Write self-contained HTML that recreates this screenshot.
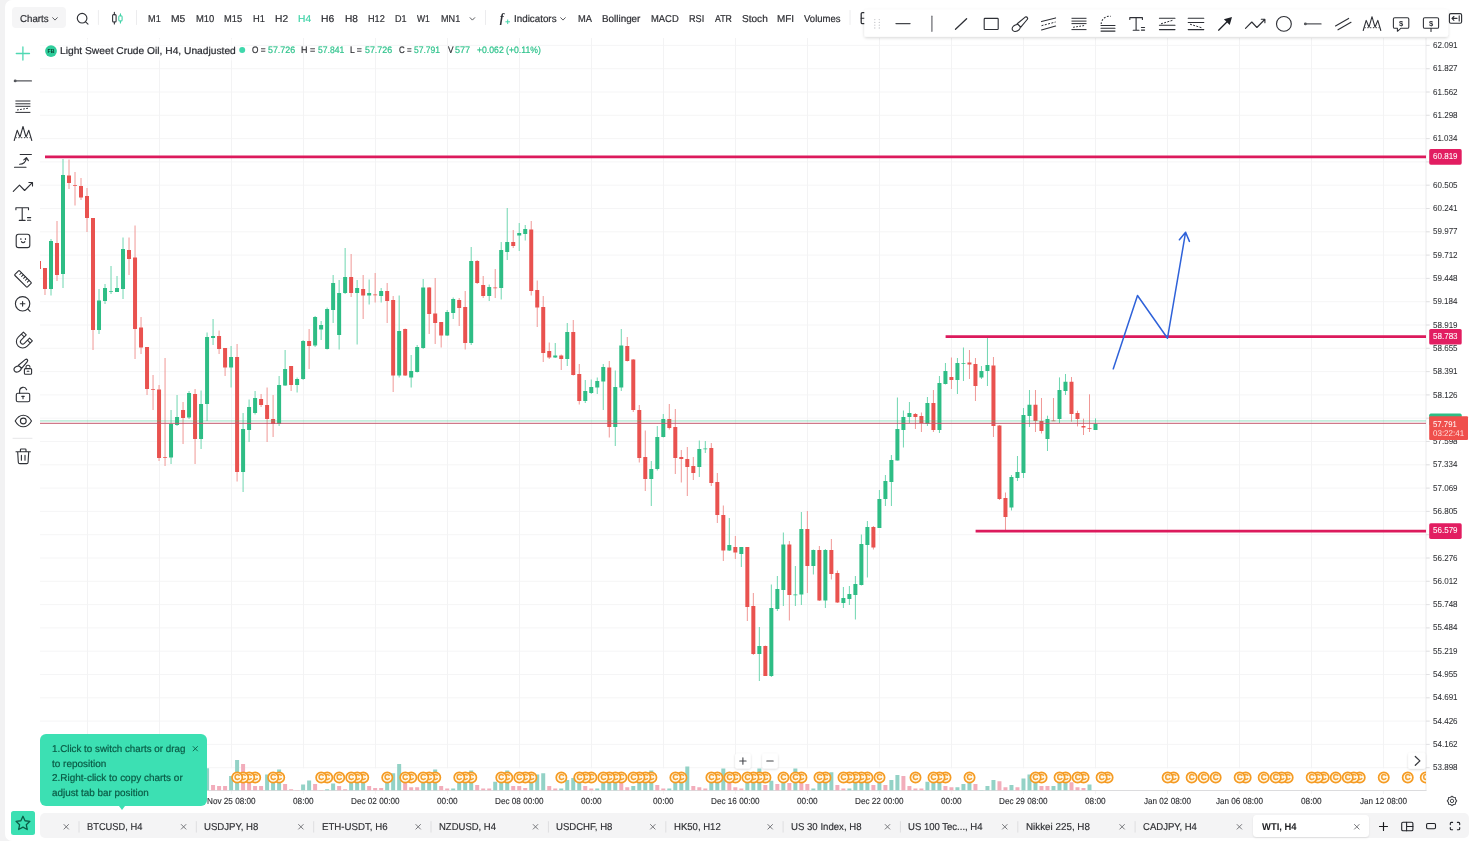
<!DOCTYPE html>
<html lang="en"><head><meta charset="utf-8"><title>Light Sweet Crude Oil, H4</title>
<style>
html,body{margin:0;padding:0}
body{width:1471px;height:841px;overflow:hidden;background:#fff;font-family:"Liberation Sans",sans-serif;position:relative;color:#333}
.strip{position:absolute;left:0;top:0;width:12px;height:841px;background:#f2f2f3}
.panel{position:absolute;left:4.6px;top:0;width:1467px;height:841px;background:#fff;border-radius:7px 0 0 7px}
svg.chart{position:absolute;left:0;top:0;width:1471px;height:841px;overflow:hidden}
.t{position:absolute;white-space:nowrap;line-height:13px;height:13px;margin:0;padding:0;text-rendering:geometricPrecision;transform-origin:0 50%}
.box{position:absolute}

</style></head><body>
<div class="strip"></div><div class="panel"></div>
<div class="box" style="left:40.4px;top:813.1px;width:1429px;height:25.4px;background:#f4f4f5;border-radius:5px"></div>
<div class="box" style="left:1253.2px;top:815.1px;width:115.9px;height:22px;background:#fff;border-radius:3.5px;box-shadow:0 1px 2px rgba(0,0,0,.10)"></div>
<div class="box" style="left:12.3px;top:7.2px;width:53.8px;height:20.5px;background:#f5f5f6;border-radius:4px"></div>
<span class="t" id="t35" style="left:1432.92px;top:39px;font-size:8.7px;color:#2d2e32;-webkit-text-stroke:0.05px #2d2e32;transform:scaleX(0.9243);">62.091</span>
<span class="t" id="t36" style="left:1432.92px;top:62px;font-size:8.7px;color:#2d2e32;-webkit-text-stroke:0.05px #2d2e32;transform:scaleX(0.9243);">61.827</span>
<span class="t" id="t37" style="left:1432.92px;top:86px;font-size:8.7px;color:#2d2e32;-webkit-text-stroke:0.05px #2d2e32;transform:scaleX(0.9243);">61.562</span>
<span class="t" id="t38" style="left:1432.92px;top:109px;font-size:8.7px;color:#2d2e32;-webkit-text-stroke:0.05px #2d2e32;transform:scaleX(0.9243);">61.298</span>
<span class="t" id="t39" style="left:1432.96px;top:132px;font-size:8.7px;color:#2d2e32;-webkit-text-stroke:0.05px #2d2e32;transform:scaleX(0.9154);">61.034</span>
<span class="t" id="t40" style="left:1432.92px;top:179px;font-size:8.7px;color:#2d2e32;-webkit-text-stroke:0.05px #2d2e32;transform:scaleX(0.9243);">60.505</span>
<span class="t" id="t41" style="left:1432.92px;top:202px;font-size:8.7px;color:#2d2e32;-webkit-text-stroke:0.05px #2d2e32;transform:scaleX(0.9243);">60.241</span>
<span class="t" id="t42" style="left:1432.90px;top:225px;font-size:8.7px;color:#2d2e32;-webkit-text-stroke:0.05px #2d2e32;transform:scaleX(0.9243);">59.977</span>
<span class="t" id="t43" style="left:1432.90px;top:249px;font-size:8.7px;color:#2d2e32;-webkit-text-stroke:0.05px #2d2e32;transform:scaleX(0.9243);">59.712</span>
<span class="t" id="t44" style="left:1432.90px;top:272px;font-size:8.7px;color:#2d2e32;-webkit-text-stroke:0.05px #2d2e32;transform:scaleX(0.9243);">59.448</span>
<span class="t" id="t45" style="left:1432.96px;top:295px;font-size:8.7px;color:#2d2e32;-webkit-text-stroke:0.05px #2d2e32;transform:scaleX(0.9154);">59.184</span>
<span class="t" id="t46" style="left:1432.90px;top:319px;font-size:8.7px;color:#2d2e32;-webkit-text-stroke:0.05px #2d2e32;transform:scaleX(0.9243);">58.919</span>
<span class="t" id="t47" style="left:1432.90px;top:342px;font-size:8.7px;color:#2d2e32;-webkit-text-stroke:0.05px #2d2e32;transform:scaleX(0.9243);">58.655</span>
<span class="t" id="t48" style="left:1432.90px;top:365px;font-size:8.7px;color:#2d2e32;-webkit-text-stroke:0.05px #2d2e32;transform:scaleX(0.9243);">58.391</span>
<span class="t" id="t49" style="left:1432.90px;top:389px;font-size:8.7px;color:#2d2e32;-webkit-text-stroke:0.05px #2d2e32;transform:scaleX(0.9243);">58.126</span>
<span class="t" id="t50" style="left:1432.90px;top:435px;font-size:8.7px;color:#2d2e32;-webkit-text-stroke:0.05px #2d2e32;transform:scaleX(0.9243);">57.598</span>
<span class="t" id="t51" style="left:1432.96px;top:458px;font-size:8.7px;color:#2d2e32;-webkit-text-stroke:0.05px #2d2e32;transform:scaleX(0.9154);">57.334</span>
<span class="t" id="t52" style="left:1432.90px;top:482px;font-size:8.7px;color:#2d2e32;-webkit-text-stroke:0.05px #2d2e32;transform:scaleX(0.9243);">57.069</span>
<span class="t" id="t53" style="left:1432.90px;top:505px;font-size:8.7px;color:#2d2e32;-webkit-text-stroke:0.05px #2d2e32;transform:scaleX(0.9243);">56.805</span>
<span class="t" id="t54" style="left:1432.90px;top:552px;font-size:8.7px;color:#2d2e32;-webkit-text-stroke:0.05px #2d2e32;transform:scaleX(0.9243);">56.276</span>
<span class="t" id="t55" style="left:1432.90px;top:575px;font-size:8.7px;color:#2d2e32;-webkit-text-stroke:0.05px #2d2e32;transform:scaleX(0.9243);">56.012</span>
<span class="t" id="t56" style="left:1432.90px;top:598px;font-size:8.7px;color:#2d2e32;-webkit-text-stroke:0.05px #2d2e32;transform:scaleX(0.9243);">55.748</span>
<span class="t" id="t57" style="left:1432.96px;top:621px;font-size:8.7px;color:#2d2e32;-webkit-text-stroke:0.05px #2d2e32;transform:scaleX(0.9154);">55.484</span>
<span class="t" id="t58" style="left:1432.90px;top:645px;font-size:8.7px;color:#2d2e32;-webkit-text-stroke:0.05px #2d2e32;transform:scaleX(0.9243);">55.219</span>
<span class="t" id="t59" style="left:1432.90px;top:668px;font-size:8.7px;color:#2d2e32;-webkit-text-stroke:0.05px #2d2e32;transform:scaleX(0.9243);">54.955</span>
<span class="t" id="t60" style="left:1432.90px;top:691px;font-size:8.7px;color:#2d2e32;-webkit-text-stroke:0.05px #2d2e32;transform:scaleX(0.9243);">54.691</span>
<span class="t" id="t61" style="left:1432.90px;top:715px;font-size:8.7px;color:#2d2e32;-webkit-text-stroke:0.05px #2d2e32;transform:scaleX(0.9243);">54.426</span>
<span class="t" id="t62" style="left:1432.90px;top:738px;font-size:8.7px;color:#2d2e32;-webkit-text-stroke:0.05px #2d2e32;transform:scaleX(0.9243);">54.162</span>
<span class="t" id="t63" style="left:1432.90px;top:761px;font-size:8.7px;color:#2d2e32;-webkit-text-stroke:0.05px #2d2e32;transform:scaleX(0.9243);">53.898</span>
<svg class="chart" width="1471" height="841" viewBox="0 0 1471 841">
<defs><clipPath id="plot"><rect x="40" y="38" width="1386" height="752.5"/></clipPath></defs>
<path d="M40 45.4 H1430 M40 68.7 H1430 M40 92 H1430 M40 115.3 H1430 M40 138.6 H1430 M40 161.9 H1430 M40 185.2 H1430 M40 208.5 H1430 M40 231.8 H1430 M40 255.1 H1430 M40 278.4 H1430 M40 301.7 H1430 M40 325 H1430 M40 348.3 H1430 M40 371.6 H1430 M40 394.9 H1430 M40 418.2 H1430 M40 441.5 H1430 M40 464.8 H1430 M40 488.1 H1430 M40 511.4 H1430 M40 534.7 H1430 M40 558 H1430 M40 581.3 H1430 M40 604.6 H1430 M40 627.9 H1430 M40 651.2 H1430 M40 674.5 H1430 M40 697.8 H1430 M40 721.1 H1430 M40 744.4 H1430 M40 767.7 H1430" stroke="#f5f5f6" stroke-width="1" fill="none"/>
<path d="M87.5 38 V768.3 M87.5 790.5 V794 M159.5 38 V768.3 M159.5 790.5 V794 M231.5 38 V768.3 M231.5 790.5 V794 M303.5 38 V768.3 M303.5 790.5 V794 M375.5 38 V768.3 M375.5 790.5 V794 M447.5 38 V768.3 M447.5 790.5 V794 M519.5 38 V768.3 M519.5 790.5 V794 M591.5 38 V768.3 M591.5 790.5 V794 M663.5 38 V768.3 M663.5 790.5 V794 M735.5 38 V768.3 M735.5 790.5 V794 M807.5 38 V768.3 M807.5 790.5 V794 M879.5 38 V768.3 M879.5 790.5 V794 M951.5 38 V768.3 M951.5 790.5 V794 M1023.5 38 V768.3 M1023.5 790.5 V794 M1095.5 38 V768.3 M1095.5 790.5 V794 M1167.5 38 V768.3 M1167.5 790.5 V794 M1239.5 38 V768.3 M1239.5 790.5 V794 M1311.5 38 V768.3 M1311.5 790.5 V794 M1383.5 38 V768.3 M1383.5 790.5 V794" stroke="#f3f3f4" stroke-width="1" fill="none"/>
<path d="M1426 38 V790.5" stroke="#ebebed" stroke-width="1" fill="none"/>
<path d="M40 790.5 H1426.5" stroke="#dcdcde" stroke-width="1" fill="none"/>
<g clip-path="url(#plot)">
<path d="M205.07 790.5v-22.3h4v22.3zM229.08 790.5v-14.4h4v14.4zM235.09 790.5v-30.4h4v30.4zM265.1 790.5v-16h4v16zM271.1 790.5v-17h4v17zM277.11 790.5v-21h4v21zM301.12 790.5v-6h4v6zM307.12 790.5v-10h4v10zM325.13 790.5v-1.2h4v1.2zM331.13 790.5v-7h4v7zM349.14 790.5v-8h4v8zM355.14 790.5v-9h4v9zM361.15 790.5v-10h4v10zM385.16 790.5v-8h4v8zM391.16 790.5v-17.3h4v17.3zM397.16 790.5v-26.4h4v26.4zM421.18 790.5v-8h4v8zM427.18 790.5v-9h4v9zM433.18 790.5v-21h4v21zM451.19 790.5v-2.1h4v2.1zM457.19 790.5v-8h4v8zM463.2 790.5v-9h4v9zM469.2 790.5v-20h4v20zM493.21 790.5v-8.7h4v8.7zM499.21 790.5v-10h4v10zM505.22 790.5v-20h4v20zM529.23 790.5v-10h4v10zM535.23 790.5v-16h4v16zM541.23 790.5v-17.3h4v17.3zM559.24 790.5v-2.1h4v2.1zM565.25 790.5v-10.4h4v10.4zM571.25 790.5v-12.6h4v12.6zM577.25 790.5v-13h4v13zM595.26 790.5v-2.1h4v2.1zM601.26 790.5v-8h4v8zM607.27 790.5v-9h4v9zM613.27 790.5v-10h4v10zM631.28 790.5v-4.4h4v4.4zM637.28 790.5v-8h4v8zM643.28 790.5v-9h4v9zM649.29 790.5v-20h4v20zM667.29 790.5v-2.1h4v2.1zM673.3 790.5v-8h4v8zM679.3 790.5v-9h4v9zM685.3 790.5v-24h4v24zM709.31 790.5v-9h4v9zM715.32 790.5v-10h4v10zM721.32 790.5v-22h4v22zM745.33 790.5v-8h4v8zM751.34 790.5v-9h4v9zM757.34 790.5v-22h4v22zM769.34 790.5v-9.7h4v9.7zM781.35 790.5v-8h4v8zM793.36 790.5v-22h4v22zM811.36 790.5v-2.1h4v2.1zM817.37 790.5v-8h4v8zM823.37 790.5v-9h4v9zM829.37 790.5v-18.3h4v18.3zM847.38 790.5v-2.1h4v2.1zM853.38 790.5v-8h4v8zM859.39 790.5v-9h4v9zM865.39 790.5v-10h4v10zM877.4 790.5v-8h4v8zM889.4 790.5v-10.4h4v10.4zM895.4 790.5v-15.4h4v15.4zM925.42 790.5v-8.7h4v8.7zM931.42 790.5v-9h4v9zM937.43 790.5v-10h4v10zM955.43 790.5v-3.3h4v3.3zM961.44 790.5v-6.4h4v6.4zM967.44 790.5v-8h4v8zM979.45 790.5v-0.5h4v0.5zM985.45 790.5v-4.4h4v4.4zM991.45 790.5v-10.4h4v10.4zM1009.46 790.5v-5.4h4v5.4zM1021.47 790.5v-12h4v12zM1027.47 790.5v-16h4v16zM1033.47 790.5v-8h4v8zM1051.48 790.5v-4.4h4v4.4zM1057.48 790.5v-8h4v8zM1063.49 790.5v-9h4v9zM1087.5 790.5v-6h4v6z" fill="#93d2c6"/>
<path d="M211.07 790.5v-5.4h4v5.4zM217.08 790.5v-4.4h4v4.4zM223.08 790.5v-4.4h4v4.4zM241.09 790.5v-26.4h4v26.4zM247.09 790.5v-12h4v12zM253.09 790.5v-4.4h4v4.4zM259.1 790.5v-4.4h4v4.4zM283.11 790.5v-6.4h4v6.4zM289.11 790.5v-1.2h4v1.2zM295.11 790.5v-0.5h4v0.5zM313.12 790.5v-6.4h4v6.4zM319.13 790.5v-0.5h4v0.5zM337.14 790.5v-4.4h4v4.4zM343.14 790.5v-1.2h4v1.2zM367.15 790.5v-4.4h4v4.4zM373.15 790.5v-2.4h4v2.4zM379.16 790.5v-2.4h4v2.4zM403.17 790.5v-7.5h4v7.5zM409.17 790.5v-3.3h4v3.3zM415.17 790.5v-3.3h4v3.3zM439.18 790.5v-4.4h4v4.4zM445.19 790.5v-1.9h4v1.9zM475.2 790.5v-5.4h4v5.4zM481.2 790.5v-2.1h4v2.1zM487.21 790.5v-2.1h4v2.1zM511.22 790.5v-4.4h4v4.4zM517.22 790.5v-4.4h4v4.4zM523.22 790.5v-2.4h4v2.4zM547.24 790.5v-4.4h4v4.4zM553.24 790.5v-2.1h4v2.1zM583.25 790.5v-4.4h4v4.4zM589.26 790.5v-1.9h4v1.9zM619.27 790.5v-10h4v10zM625.27 790.5v-3.3h4v3.3zM655.29 790.5v-5.4h4v5.4zM661.29 790.5v-2.1h4v2.1zM691.31 790.5v-4.4h4v4.4zM697.31 790.5v-3.3h4v3.3zM703.31 790.5v-2.1h4v2.1zM727.32 790.5v-8h4v8zM733.33 790.5v-3.3h4v3.3zM739.33 790.5v-2.1h4v2.1zM763.34 790.5v-5.4h4v5.4zM775.35 790.5v-6.4h4v6.4zM787.35 790.5v-7.5h4v7.5zM799.36 790.5v-8h4v8zM805.36 790.5v-6.4h4v6.4zM835.38 790.5v-5.4h4v5.4zM841.38 790.5v-2.1h4v2.1zM871.39 790.5v-5.4h4v5.4zM883.4 790.5v-5.4h4v5.4zM901.41 790.5v-14.4h4v14.4zM907.41 790.5v-4.4h4v4.4zM913.41 790.5v-2.1h4v2.1zM919.42 790.5v-2.1h4v2.1zM943.43 790.5v-4.4h4v4.4zM949.43 790.5v-3.3h4v3.3zM973.44 790.5v-6.4h4v6.4zM997.45 790.5v-9.3h4v9.3zM1003.46 790.5v-3.3h4v3.3zM1015.46 790.5v-3.3h4v3.3zM1039.47 790.5v-4.4h4v4.4zM1045.48 790.5v-4.4h4v4.4zM1069.49 790.5v-8.3h4v8.3zM1075.49 790.5v-3.3h4v3.3zM1081.49 790.5v-2.4h4v2.4z" fill="#f2adbb"/>
<path d="M51 239V295.5M63 159V288M99.02 289V334M105.02 284V304M111.02 266V294M117.03 276V292M123.03 237.5V299M171.05 410V464M177.06 395V426M189.06 391V419M201.07 390.5V449M207.07 332.5V421M213.07 319V345M231.08 346V387.5M243.09 413V492M249.09 399.5V442M255.09 391V414.5M279.11 376V426M285.11 350V386M297.11 377.5V392.5M303.12 340V380M315.12 316V347M321.13 321V340M327.13 307.5V349.5M333.13 275V323M339.14 280V349.5M345.14 248V294M357.14 280V344.5M369.15 279.5V304.5M381.16 288V302.5M399.16 295.5V377.5M411.17 355V387.5M417.17 345V372.5M423.18 279V349M447.19 310V336M453.19 297.5V319M471.2 247V345M489.21 284.5V301M501.21 242V299.5M507.22 208V260M519.22 223V251M525.22 225V240.5M555.24 343V358M567.25 323V366M585.25 380V403M591.26 379.5V394M597.26 377.5V394M603.26 364V410M615.27 370.5V446M621.27 329V391M651.29 461V506M657.29 426V470.5M663.29 414V437.5M699.31 440.5V477M705.31 441V453M729.32 518V551M741.33 547V567M759.34 627V681M771.34 584.5V677M777.35 576V611M783.35 532.5V606M795.36 566V606M801.36 512V605M813.36 549.5V574.5M825.37 549V608M843.38 587V608M849.38 586V605M855.38 576V619.5M861.39 534.5V585.5M867.39 521V577.5M879.4 490V528M885.4 475V506M891.4 455V506M897.4 397.5V460.5M903.41 410.5V447.5M909.41 402V423M927.42 397V426M939.43 376V433M945.43 363V384.5M957.43 358V394M963.44 347.5V381M981.45 366V379M987.45 337.5V386M1011.46 475V510.5M1017.46 456V481M1023.47 408V478M1029.47 390V427M1047.48 415.7V451M1059.48 377.4V423M1065.49 374V395M1095.5 418.3V430" stroke="#6fd6b0" stroke-width="1" fill="none"/>
<path d="M38.99 261V269M44.99 268V295M57 221V281M69 159.5V189M75.01 172V205.5M81.01 178V200M87.01 188V232M93.02 218V350M129.03 237.5V275M135.04 225.5V359M141.04 317V354M147.04 347V395M153.05 375V410M159.05 385V461M165.05 358V466M183.06 402V444M195.07 389V464M219.08 330.5V354M225.08 348V376M237.09 344V481.5M261.1 394V407M267.1 387.5V442M273.1 395V437M291.11 366V391M309.12 329V369M351.14 254V297M363.15 275V319M375.15 273V302.5M387.16 283V323M393.16 296V392M405.17 328.5V376M429.18 287V334M435.18 278V344M441.18 322V347.5M459.19 298V326M465.2 291V349.5M477.2 260V284M483.2 276V298M495.21 269V298M513.22 230V248M531.23 221V295.5M537.23 280.5V327M543.23 296V362M549.24 342.5V359M561.24 354.5V370M573.25 320V375.5M579.25 364V404.5M609.27 361V437.5M627.27 337V361.5M633.28 359V412M639.28 405V462.5M645.28 430.5V491M669.29 404V429.5M675.3 409V474M681.3 450V482.5M687.3 447V496M693.31 457V480M711.31 443V486M717.32 473V523M723.32 505.5V561M735.33 536V559M747.33 547V621M753.34 593V655M765.34 645.5V676M789.35 541V620.5M807.36 511V593M819.37 546V601M831.37 539V579.5M837.38 570.5V603M873.39 526V549.5M915.41 413V429M921.42 412.5V432M933.42 390V432M951.43 357.5V389M969.44 350V379M975.44 358V401M993.45 357V437M999.45 425V500M1005.46 492.5V530M1035.47 390V432M1041.47 398V433.5M1053.48 398V421M1071.49 377V421.7M1077.49 410.7V426.4M1083.49 418.6V435M1089.5 394.3V432" stroke="#f09896" stroke-width="1" fill="none"/>
<path d="M49 241h4v48h-4zM61 175h4v99h-4zM97.02 300.5h4v29.5h-4zM103.02 288h4v13h-4zM109.02 291h4v0.8h-4zM115.03 288h4v4h-4zM121.03 249h4v40h-4zM169.05 424h4v33.5h-4zM175.06 417h4v8h-4zM187.06 393h4v24.5h-4zM199.07 404h4v35h-4zM205.07 337h4v67h-4zM211.07 336h4v2h-4zM229.08 357h4v10.5h-4zM241.09 429h4v43h-4zM247.09 407h4v23h-4zM253.09 398h4v15h-4zM277.11 385h4v39h-4zM283.11 369h4v16.5h-4zM295.11 379h4v6h-4zM301.12 341h4v38h-4zM313.12 317h4v28.5h-4zM319.13 325h4v4.5h-4zM325.13 309h4v40h-4zM331.13 283h4v27h-4zM337.14 293h4v42h-4zM343.14 277h4v16h-4zM355.14 288h4v5h-4zM367.15 293h4v2.5h-4zM379.16 291h4v5h-4zM397.16 331h4v44.5h-4zM409.17 371h4v6.5h-4zM415.17 347h4v25h-4zM421.18 287.5h4v60.5h-4zM445.19 312h4v23.5h-4zM451.19 299h4v14h-4zM469.2 261h4v82h-4zM487.21 287h4v9h-4zM499.21 250h4v38h-4zM505.22 242h4v10h-4zM517.22 233h4v2.5h-4zM523.22 229h4v5h-4zM553.24 355.5h4v2h-4zM565.25 332h4v27h-4zM583.25 391h4v10h-4zM589.26 387h4v6h-4zM595.26 381h4v6.5h-4zM601.26 367h4v14.5h-4zM613.27 387h4v40h-4zM619.27 345.5h4v42h-4zM649.29 469h4v10h-4zM655.29 437h4v32h-4zM661.29 419h4v18h-4zM697.31 449h4v18h-4zM703.31 448.5h4v0.8h-4zM727.32 545h4v5.5h-4zM739.33 547h4v7h-4zM757.34 646h4v8h-4zM769.34 608h4v68h-4zM775.35 589h4v20h-4zM781.35 544.5h4v45.5h-4zM793.36 594.5h4v0.8h-4zM799.36 529h4v65.5h-4zM811.36 550h4v16h-4zM823.37 550h4v50.5h-4zM841.38 598h4v5h-4zM847.38 594h4v5h-4zM853.38 584h4v11h-4zM859.39 544h4v41h-4zM865.39 527h4v18h-4zM877.4 499h4v29h-4zM883.4 481h4v18h-4zM889.4 460h4v22h-4zM895.4 429h4v31.5h-4zM901.41 417h4v13h-4zM907.41 413h4v4h-4zM925.42 403h4v21h-4zM937.43 383h4v47h-4zM943.43 371h4v13h-4zM955.43 363h4v17h-4zM961.44 363h4v0.8h-4zM979.45 371h4v6.5h-4zM985.45 365h4v6h-4zM1009.46 477h4v30.5h-4zM1015.46 472h4v6h-4zM1021.47 415h4v58h-4zM1027.47 404.7h4v11.3h-4zM1045.48 419h4v20h-4zM1057.48 390h4v29h-4zM1063.49 381.7h4v9.3h-4zM1093.5 424h4v6h-4z" fill="#2ebd85"/>
<path d="M36.99 261h4v8h-4zM42.99 268h4v21h-4zM55 243h4v32h-4zM67 175.5h4v7.5h-4zM73.01 185h4v0.8h-4zM79.01 186h4v11.5h-4zM85.01 196h4v22h-4zM91.02 218h4v112h-4zM127.03 250h4v9h-4zM133.04 257.5h4v71.5h-4zM139.04 327.5h4v20h-4zM145.04 347h4v42h-4zM151.05 389h4v0.8h-4zM157.05 389.5h4v68.5h-4zM163.05 457h4v0.8h-4zM181.06 410h4v8h-4zM193.07 394h4v45h-4zM217.08 336h4v13h-4zM223.08 348h4v19.5h-4zM235.09 357h4v115h-4zM259.1 399h4v6h-4zM265.1 405h4v14h-4zM271.1 419h4v5h-4zM289.11 366h4v19h-4zM307.12 341h4v5h-4zM349.14 277h4v16h-4zM361.15 289h4v6.5h-4zM373.15 294.5h4v0.8h-4zM385.16 291h4v10h-4zM391.16 300h4v75.5h-4zM403.17 329h4v46.5h-4zM427.18 287.5h4v26.5h-4zM433.18 313.5h4v9.5h-4zM439.18 322h4v13.5h-4zM457.19 300h4v8h-4zM463.2 307h4v36h-4zM475.2 261h4v22h-4zM481.2 285h4v11h-4zM493.21 287.5h4v0.8h-4zM511.22 242h4v4h-4zM529.23 229.5h4v61.5h-4zM535.23 290h4v17.5h-4zM541.23 307h4v46h-4zM547.24 351h4v6.5h-4zM559.24 355.5h4v3.5h-4zM571.25 332h4v43h-4zM577.25 374h4v27h-4zM607.27 367.5h4v59.5h-4zM625.27 346h4v15h-4zM631.28 359.5h4v50.5h-4zM637.28 410h4v48h-4zM643.28 457h4v22h-4zM667.29 419h4v9h-4zM673.3 427h4v31h-4zM679.3 457h4v2h-4zM685.3 459h4v8h-4zM691.31 466h4v7h-4zM709.31 448h4v35h-4zM715.32 482h4v33h-4zM721.32 515h4v35.5h-4zM733.33 547h4v5.5h-4zM745.33 547h4v60h-4zM751.34 606h4v48h-4zM763.34 646h4v30h-4zM787.35 544.5h4v50.5h-4zM805.36 529h4v37h-4zM817.37 550h4v50.5h-4zM829.37 550h4v24h-4zM835.38 573h4v29.5h-4zM871.39 527h4v20.5h-4zM913.41 414h4v3h-4zM919.42 416h4v7h-4zM931.42 403h4v27h-4zM949.43 377h4v3h-4zM967.44 362.5h4v2h-4zM973.44 364h4v22h-4zM991.45 365.5h4v60.5h-4zM997.45 425.5h4v73.5h-4zM1003.46 498h4v19h-4zM1033.47 404.7h4v16.3h-4zM1039.47 421h4v10h-4zM1051.48 420.4h4v0.8h-4zM1069.49 381.7h4v32.3h-4zM1075.49 413h4v6h-4zM1081.49 426h4v1.6h-4zM1087.5 428.3h4v0.8h-4z" fill="#e9524f"/>
<path d="M40 420.85 H1426" stroke="#2ebd85" stroke-opacity="0.28" stroke-width="1.8" fill="none"/>
<path d="M40 423.4 H1426" stroke="#c4566c" stroke-opacity="0.8" stroke-width="1.1" fill="none"/>
<path d="M45 156.9 H1426 M945.6 336.6 H1426 M975.6 531.1 H1426" stroke="#dc1a5c" stroke-width="2.7" fill="none"/>
<path d="M1113.3 368.8 L1137.5 295.5 L1167.5 338.2 L1185.6 232.2 M1179.4 239.8 L1185.6 232.2 L1189.4 241.4" stroke="#2f62d9" stroke-width="1.5" fill="none" stroke-linejoin="round" stroke-linecap="round"/>
</g>
<g clip-path="url(#plot)" font-family="'Liberation Sans',sans-serif" font-size="8.2" font-weight="700" text-anchor="middle">
<g transform="translate(1425.76 777.5)"><circle r="5.15" fill="#fff9ea" stroke="#f59b23" stroke-width="1.7"/><text x="0" y="2.9" fill="#f59b23" stroke="#f59b23" stroke-width="0.3">C</text></g>
<g transform="translate(1407.75 777.5)"><circle r="5.15" fill="#fff9ea" stroke="#f59b23" stroke-width="1.7"/><text x="0" y="2.9" fill="#f59b23" stroke="#f59b23" stroke-width="0.3">C</text></g>
<g transform="translate(1383.74 777.5)"><circle r="5.15" fill="#fff9ea" stroke="#f59b23" stroke-width="1.7"/><text x="0" y="2.9" fill="#f59b23" stroke="#f59b23" stroke-width="0.3">C</text></g>
<g transform="translate(1359.73 777.5)"><circle r="5.15" fill="#fff9ea" stroke="#f59b23" stroke-width="1.7"/><text x="0" y="2.9" fill="#f59b23" stroke="#f59b23" stroke-width="0.3">C</text></g>
<g transform="translate(1353.73 777.5)"><circle r="5.15" fill="#fff9ea" stroke="#f59b23" stroke-width="1.7"/><text x="0" y="2.9" fill="#f59b23" stroke="#f59b23" stroke-width="0.3">C</text></g>
<g transform="translate(1347.72 777.5)"><circle r="5.15" fill="#fff9ea" stroke="#f59b23" stroke-width="1.7"/><text x="0" y="2.9" fill="#f59b23" stroke="#f59b23" stroke-width="0.3">C</text></g>
<g transform="translate(1335.72 777.5)"><circle r="5.15" fill="#fff9ea" stroke="#f59b23" stroke-width="1.7"/><text x="0" y="2.9" fill="#f59b23" stroke="#f59b23" stroke-width="0.3">C</text></g>
<g transform="translate(1323.71 777.5)"><circle r="5.15" fill="#fff9ea" stroke="#f59b23" stroke-width="1.7"/><text x="0" y="2.9" fill="#f59b23" stroke="#f59b23" stroke-width="0.3">C</text></g>
<g transform="translate(1317.71 777.5)"><circle r="5.15" fill="#fff9ea" stroke="#f59b23" stroke-width="1.7"/><text x="0" y="2.9" fill="#f59b23" stroke="#f59b23" stroke-width="0.3">C</text></g>
<g transform="translate(1311.7 777.5)"><circle r="5.15" fill="#fff9ea" stroke="#f59b23" stroke-width="1.7"/><text x="0" y="2.9" fill="#f59b23" stroke="#f59b23" stroke-width="0.3">C</text></g>
<g transform="translate(1287.69 777.5)"><circle r="5.15" fill="#fff9ea" stroke="#f59b23" stroke-width="1.7"/><text x="0" y="2.9" fill="#f59b23" stroke="#f59b23" stroke-width="0.3">C</text></g>
<g transform="translate(1281.69 777.5)"><circle r="5.15" fill="#fff9ea" stroke="#f59b23" stroke-width="1.7"/><text x="0" y="2.9" fill="#f59b23" stroke="#f59b23" stroke-width="0.3">C</text></g>
<g transform="translate(1275.69 777.5)"><circle r="5.15" fill="#fff9ea" stroke="#f59b23" stroke-width="1.7"/><text x="0" y="2.9" fill="#f59b23" stroke="#f59b23" stroke-width="0.3">C</text></g>
<g transform="translate(1263.68 777.5)"><circle r="5.15" fill="#fff9ea" stroke="#f59b23" stroke-width="1.7"/><text x="0" y="2.9" fill="#f59b23" stroke="#f59b23" stroke-width="0.3">C</text></g>
<g transform="translate(1245.67 777.5)"><circle r="5.15" fill="#fff9ea" stroke="#f59b23" stroke-width="1.7"/><text x="0" y="2.9" fill="#f59b23" stroke="#f59b23" stroke-width="0.3">C</text></g>
<g transform="translate(1239.67 777.5)"><circle r="5.15" fill="#fff9ea" stroke="#f59b23" stroke-width="1.7"/><text x="0" y="2.9" fill="#f59b23" stroke="#f59b23" stroke-width="0.3">C</text></g>
<g transform="translate(1215.66 777.5)"><circle r="5.15" fill="#fff9ea" stroke="#f59b23" stroke-width="1.7"/><text x="0" y="2.9" fill="#f59b23" stroke="#f59b23" stroke-width="0.3">C</text></g>
<g transform="translate(1203.65 777.5)"><circle r="5.15" fill="#fff9ea" stroke="#f59b23" stroke-width="1.7"/><text x="0" y="2.9" fill="#f59b23" stroke="#f59b23" stroke-width="0.3">C</text></g>
<g transform="translate(1191.65 777.5)"><circle r="5.15" fill="#fff9ea" stroke="#f59b23" stroke-width="1.7"/><text x="0" y="2.9" fill="#f59b23" stroke="#f59b23" stroke-width="0.3">C</text></g>
<g transform="translate(1173.64 777.5)"><circle r="5.15" fill="#fff9ea" stroke="#f59b23" stroke-width="1.7"/><text x="0" y="2.9" fill="#f59b23" stroke="#f59b23" stroke-width="0.3">C</text></g>
<g transform="translate(1167.64 777.5)"><circle r="5.15" fill="#fff9ea" stroke="#f59b23" stroke-width="1.7"/><text x="0" y="2.9" fill="#f59b23" stroke="#f59b23" stroke-width="0.3">C</text></g>
<g transform="translate(1107.61 777.5)"><circle r="5.15" fill="#fff9ea" stroke="#f59b23" stroke-width="1.7"/><text x="0" y="2.9" fill="#f59b23" stroke="#f59b23" stroke-width="0.3">C</text></g>
<g transform="translate(1101.6 777.5)"><circle r="5.15" fill="#fff9ea" stroke="#f59b23" stroke-width="1.7"/><text x="0" y="2.9" fill="#f59b23" stroke="#f59b23" stroke-width="0.3">C</text></g>
<g transform="translate(1083.59 777.5)"><circle r="5.15" fill="#fff9ea" stroke="#f59b23" stroke-width="1.7"/><text x="0" y="2.9" fill="#f59b23" stroke="#f59b23" stroke-width="0.3">C</text></g>
<g transform="translate(1077.59 777.5)"><circle r="5.15" fill="#fff9ea" stroke="#f59b23" stroke-width="1.7"/><text x="0" y="2.9" fill="#f59b23" stroke="#f59b23" stroke-width="0.3">C</text></g>
<g transform="translate(1065.59 777.5)"><circle r="5.15" fill="#fff9ea" stroke="#f59b23" stroke-width="1.7"/><text x="0" y="2.9" fill="#f59b23" stroke="#f59b23" stroke-width="0.3">C</text></g>
<g transform="translate(1059.58 777.5)"><circle r="5.15" fill="#fff9ea" stroke="#f59b23" stroke-width="1.7"/><text x="0" y="2.9" fill="#f59b23" stroke="#f59b23" stroke-width="0.3">C</text></g>
<g transform="translate(1041.57 777.5)"><circle r="5.15" fill="#fff9ea" stroke="#f59b23" stroke-width="1.7"/><text x="0" y="2.9" fill="#f59b23" stroke="#f59b23" stroke-width="0.3">C</text></g>
<g transform="translate(1035.57 777.5)"><circle r="5.15" fill="#fff9ea" stroke="#f59b23" stroke-width="1.7"/><text x="0" y="2.9" fill="#f59b23" stroke="#f59b23" stroke-width="0.3">C</text></g>
<g transform="translate(969.54 777.5)"><circle r="5.15" fill="#fff9ea" stroke="#f59b23" stroke-width="1.7"/><text x="0" y="2.9" fill="#f59b23" stroke="#f59b23" stroke-width="0.3">C</text></g>
<g transform="translate(945.53 777.5)"><circle r="5.15" fill="#fff9ea" stroke="#f59b23" stroke-width="1.7"/><text x="0" y="2.9" fill="#f59b23" stroke="#f59b23" stroke-width="0.3">C</text></g>
<g transform="translate(939.53 777.5)"><circle r="5.15" fill="#fff9ea" stroke="#f59b23" stroke-width="1.7"/><text x="0" y="2.9" fill="#f59b23" stroke="#f59b23" stroke-width="0.3">C</text></g>
<g transform="translate(933.52 777.5)"><circle r="5.15" fill="#fff9ea" stroke="#f59b23" stroke-width="1.7"/><text x="0" y="2.9" fill="#f59b23" stroke="#f59b23" stroke-width="0.3">C</text></g>
<g transform="translate(915.51 777.5)"><circle r="5.15" fill="#fff9ea" stroke="#f59b23" stroke-width="1.7"/><text x="0" y="2.9" fill="#f59b23" stroke="#f59b23" stroke-width="0.3">C</text></g>
<g transform="translate(879.5 777.5)"><circle r="5.15" fill="#fff9ea" stroke="#f59b23" stroke-width="1.7"/><text x="0" y="2.9" fill="#f59b23" stroke="#f59b23" stroke-width="0.3">C</text></g>
<g transform="translate(867.49 777.5)"><circle r="5.15" fill="#fff9ea" stroke="#f59b23" stroke-width="1.7"/><text x="0" y="2.9" fill="#f59b23" stroke="#f59b23" stroke-width="0.3">C</text></g>
<g transform="translate(861.49 777.5)"><circle r="5.15" fill="#fff9ea" stroke="#f59b23" stroke-width="1.7"/><text x="0" y="2.9" fill="#f59b23" stroke="#f59b23" stroke-width="0.3">C</text></g>
<g transform="translate(855.48 777.5)"><circle r="5.15" fill="#fff9ea" stroke="#f59b23" stroke-width="1.7"/><text x="0" y="2.9" fill="#f59b23" stroke="#f59b23" stroke-width="0.3">C</text></g>
<g transform="translate(849.48 777.5)"><circle r="5.15" fill="#fff9ea" stroke="#f59b23" stroke-width="1.7"/><text x="0" y="2.9" fill="#f59b23" stroke="#f59b23" stroke-width="0.3">C</text></g>
<g transform="translate(843.48 777.5)"><circle r="5.15" fill="#fff9ea" stroke="#f59b23" stroke-width="1.7"/><text x="0" y="2.9" fill="#f59b23" stroke="#f59b23" stroke-width="0.3">C</text></g>
<g transform="translate(825.47 777.5)"><circle r="5.15" fill="#fff9ea" stroke="#f59b23" stroke-width="1.7"/><text x="0" y="2.9" fill="#f59b23" stroke="#f59b23" stroke-width="0.3">C</text></g>
<g transform="translate(819.47 777.5)"><circle r="5.15" fill="#fff9ea" stroke="#f59b23" stroke-width="1.7"/><text x="0" y="2.9" fill="#f59b23" stroke="#f59b23" stroke-width="0.3">C</text></g>
<g transform="translate(801.46 777.5)"><circle r="5.15" fill="#fff9ea" stroke="#f59b23" stroke-width="1.7"/><text x="0" y="2.9" fill="#f59b23" stroke="#f59b23" stroke-width="0.3">C</text></g>
<g transform="translate(795.46 777.5)"><circle r="5.15" fill="#fff9ea" stroke="#f59b23" stroke-width="1.7"/><text x="0" y="2.9" fill="#f59b23" stroke="#f59b23" stroke-width="0.3">C</text></g>
<g transform="translate(783.45 777.5)"><circle r="5.15" fill="#fff9ea" stroke="#f59b23" stroke-width="1.7"/><text x="0" y="2.9" fill="#f59b23" stroke="#f59b23" stroke-width="0.3">C</text></g>
<g transform="translate(765.44 777.5)"><circle r="5.15" fill="#fff9ea" stroke="#f59b23" stroke-width="1.7"/><text x="0" y="2.9" fill="#f59b23" stroke="#f59b23" stroke-width="0.3">C</text></g>
<g transform="translate(759.44 777.5)"><circle r="5.15" fill="#fff9ea" stroke="#f59b23" stroke-width="1.7"/><text x="0" y="2.9" fill="#f59b23" stroke="#f59b23" stroke-width="0.3">C</text></g>
<g transform="translate(753.44 777.5)"><circle r="5.15" fill="#fff9ea" stroke="#f59b23" stroke-width="1.7"/><text x="0" y="2.9" fill="#f59b23" stroke="#f59b23" stroke-width="0.3">C</text></g>
<g transform="translate(747.43 777.5)"><circle r="5.15" fill="#fff9ea" stroke="#f59b23" stroke-width="1.7"/><text x="0" y="2.9" fill="#f59b23" stroke="#f59b23" stroke-width="0.3">C</text></g>
<g transform="translate(735.43 777.5)"><circle r="5.15" fill="#fff9ea" stroke="#f59b23" stroke-width="1.7"/><text x="0" y="2.9" fill="#f59b23" stroke="#f59b23" stroke-width="0.3">C</text></g>
<g transform="translate(729.42 777.5)"><circle r="5.15" fill="#fff9ea" stroke="#f59b23" stroke-width="1.7"/><text x="0" y="2.9" fill="#f59b23" stroke="#f59b23" stroke-width="0.3">C</text></g>
<g transform="translate(717.42 777.5)"><circle r="5.15" fill="#fff9ea" stroke="#f59b23" stroke-width="1.7"/><text x="0" y="2.9" fill="#f59b23" stroke="#f59b23" stroke-width="0.3">C</text></g>
<g transform="translate(711.41 777.5)"><circle r="5.15" fill="#fff9ea" stroke="#f59b23" stroke-width="1.7"/><text x="0" y="2.9" fill="#f59b23" stroke="#f59b23" stroke-width="0.3">C</text></g>
<g transform="translate(681.4 777.5)"><circle r="5.15" fill="#fff9ea" stroke="#f59b23" stroke-width="1.7"/><text x="0" y="2.9" fill="#f59b23" stroke="#f59b23" stroke-width="0.3">C</text></g>
<g transform="translate(675.4 777.5)"><circle r="5.15" fill="#fff9ea" stroke="#f59b23" stroke-width="1.7"/><text x="0" y="2.9" fill="#f59b23" stroke="#f59b23" stroke-width="0.3">C</text></g>
<g transform="translate(651.39 777.5)"><circle r="5.15" fill="#fff9ea" stroke="#f59b23" stroke-width="1.7"/><text x="0" y="2.9" fill="#f59b23" stroke="#f59b23" stroke-width="0.3">C</text></g>
<g transform="translate(645.38 777.5)"><circle r="5.15" fill="#fff9ea" stroke="#f59b23" stroke-width="1.7"/><text x="0" y="2.9" fill="#f59b23" stroke="#f59b23" stroke-width="0.3">C</text></g>
<g transform="translate(639.38 777.5)"><circle r="5.15" fill="#fff9ea" stroke="#f59b23" stroke-width="1.7"/><text x="0" y="2.9" fill="#f59b23" stroke="#f59b23" stroke-width="0.3">C</text></g>
<g transform="translate(633.38 777.5)"><circle r="5.15" fill="#fff9ea" stroke="#f59b23" stroke-width="1.7"/><text x="0" y="2.9" fill="#f59b23" stroke="#f59b23" stroke-width="0.3">C</text></g>
<g transform="translate(621.37 777.5)"><circle r="5.15" fill="#fff9ea" stroke="#f59b23" stroke-width="1.7"/><text x="0" y="2.9" fill="#f59b23" stroke="#f59b23" stroke-width="0.3">C</text></g>
<g transform="translate(615.37 777.5)"><circle r="5.15" fill="#fff9ea" stroke="#f59b23" stroke-width="1.7"/><text x="0" y="2.9" fill="#f59b23" stroke="#f59b23" stroke-width="0.3">C</text></g>
<g transform="translate(609.37 777.5)"><circle r="5.15" fill="#fff9ea" stroke="#f59b23" stroke-width="1.7"/><text x="0" y="2.9" fill="#f59b23" stroke="#f59b23" stroke-width="0.3">C</text></g>
<g transform="translate(603.36 777.5)"><circle r="5.15" fill="#fff9ea" stroke="#f59b23" stroke-width="1.7"/><text x="0" y="2.9" fill="#f59b23" stroke="#f59b23" stroke-width="0.3">C</text></g>
<g transform="translate(591.36 777.5)"><circle r="5.15" fill="#fff9ea" stroke="#f59b23" stroke-width="1.7"/><text x="0" y="2.9" fill="#f59b23" stroke="#f59b23" stroke-width="0.3">C</text></g>
<g transform="translate(585.35 777.5)"><circle r="5.15" fill="#fff9ea" stroke="#f59b23" stroke-width="1.7"/><text x="0" y="2.9" fill="#f59b23" stroke="#f59b23" stroke-width="0.3">C</text></g>
<g transform="translate(579.35 777.5)"><circle r="5.15" fill="#fff9ea" stroke="#f59b23" stroke-width="1.7"/><text x="0" y="2.9" fill="#f59b23" stroke="#f59b23" stroke-width="0.3">C</text></g>
<g transform="translate(561.34 777.5)"><circle r="5.15" fill="#fff9ea" stroke="#f59b23" stroke-width="1.7"/><text x="0" y="2.9" fill="#f59b23" stroke="#f59b23" stroke-width="0.3">C</text></g>
<g transform="translate(531.33 777.5)"><circle r="5.15" fill="#fff9ea" stroke="#f59b23" stroke-width="1.7"/><text x="0" y="2.9" fill="#f59b23" stroke="#f59b23" stroke-width="0.3">C</text></g>
<g transform="translate(525.32 777.5)"><circle r="5.15" fill="#fff9ea" stroke="#f59b23" stroke-width="1.7"/><text x="0" y="2.9" fill="#f59b23" stroke="#f59b23" stroke-width="0.3">C</text></g>
<g transform="translate(519.32 777.5)"><circle r="5.15" fill="#fff9ea" stroke="#f59b23" stroke-width="1.7"/><text x="0" y="2.9" fill="#f59b23" stroke="#f59b23" stroke-width="0.3">C</text></g>
<g transform="translate(507.32 777.5)"><circle r="5.15" fill="#fff9ea" stroke="#f59b23" stroke-width="1.7"/><text x="0" y="2.9" fill="#f59b23" stroke="#f59b23" stroke-width="0.3">C</text></g>
<g transform="translate(501.31 777.5)"><circle r="5.15" fill="#fff9ea" stroke="#f59b23" stroke-width="1.7"/><text x="0" y="2.9" fill="#f59b23" stroke="#f59b23" stroke-width="0.3">C</text></g>
<g transform="translate(471.3 777.5)"><circle r="5.15" fill="#fff9ea" stroke="#f59b23" stroke-width="1.7"/><text x="0" y="2.9" fill="#f59b23" stroke="#f59b23" stroke-width="0.3">C</text></g>
<g transform="translate(465.3 777.5)"><circle r="5.15" fill="#fff9ea" stroke="#f59b23" stroke-width="1.7"/><text x="0" y="2.9" fill="#f59b23" stroke="#f59b23" stroke-width="0.3">C</text></g>
<g transform="translate(459.29 777.5)"><circle r="5.15" fill="#fff9ea" stroke="#f59b23" stroke-width="1.7"/><text x="0" y="2.9" fill="#f59b23" stroke="#f59b23" stroke-width="0.3">C</text></g>
<g transform="translate(435.28 777.5)"><circle r="5.15" fill="#fff9ea" stroke="#f59b23" stroke-width="1.7"/><text x="0" y="2.9" fill="#f59b23" stroke="#f59b23" stroke-width="0.3">C</text></g>
<g transform="translate(429.28 777.5)"><circle r="5.15" fill="#fff9ea" stroke="#f59b23" stroke-width="1.7"/><text x="0" y="2.9" fill="#f59b23" stroke="#f59b23" stroke-width="0.3">C</text></g>
<g transform="translate(423.28 777.5)"><circle r="5.15" fill="#fff9ea" stroke="#f59b23" stroke-width="1.7"/><text x="0" y="2.9" fill="#f59b23" stroke="#f59b23" stroke-width="0.3">C</text></g>
<g transform="translate(411.27 777.5)"><circle r="5.15" fill="#fff9ea" stroke="#f59b23" stroke-width="1.7"/><text x="0" y="2.9" fill="#f59b23" stroke="#f59b23" stroke-width="0.3">C</text></g>
<g transform="translate(405.27 777.5)"><circle r="5.15" fill="#fff9ea" stroke="#f59b23" stroke-width="1.7"/><text x="0" y="2.9" fill="#f59b23" stroke="#f59b23" stroke-width="0.3">C</text></g>
<g transform="translate(387.26 777.5)"><circle r="5.15" fill="#fff9ea" stroke="#f59b23" stroke-width="1.7"/><text x="0" y="2.9" fill="#f59b23" stroke="#f59b23" stroke-width="0.3">C</text></g>
<g transform="translate(363.25 777.5)"><circle r="5.15" fill="#fff9ea" stroke="#f59b23" stroke-width="1.7"/><text x="0" y="2.9" fill="#f59b23" stroke="#f59b23" stroke-width="0.3">C</text></g>
<g transform="translate(357.24 777.5)"><circle r="5.15" fill="#fff9ea" stroke="#f59b23" stroke-width="1.7"/><text x="0" y="2.9" fill="#f59b23" stroke="#f59b23" stroke-width="0.3">C</text></g>
<g transform="translate(351.24 777.5)"><circle r="5.15" fill="#fff9ea" stroke="#f59b23" stroke-width="1.7"/><text x="0" y="2.9" fill="#f59b23" stroke="#f59b23" stroke-width="0.3">C</text></g>
<g transform="translate(339.24 777.5)"><circle r="5.15" fill="#fff9ea" stroke="#f59b23" stroke-width="1.7"/><text x="0" y="2.9" fill="#f59b23" stroke="#f59b23" stroke-width="0.3">C</text></g>
<g transform="translate(327.23 777.5)"><circle r="5.15" fill="#fff9ea" stroke="#f59b23" stroke-width="1.7"/><text x="0" y="2.9" fill="#f59b23" stroke="#f59b23" stroke-width="0.3">C</text></g>
<g transform="translate(321.23 777.5)"><circle r="5.15" fill="#fff9ea" stroke="#f59b23" stroke-width="1.7"/><text x="0" y="2.9" fill="#f59b23" stroke="#f59b23" stroke-width="0.3">C</text></g>
<g transform="translate(279.21 777.5)"><circle r="5.15" fill="#fff9ea" stroke="#f59b23" stroke-width="1.7"/><text x="0" y="2.9" fill="#f59b23" stroke="#f59b23" stroke-width="0.3">C</text></g>
<g transform="translate(273.2 777.5)"><circle r="5.15" fill="#fff9ea" stroke="#f59b23" stroke-width="1.7"/><text x="0" y="2.9" fill="#f59b23" stroke="#f59b23" stroke-width="0.3">C</text></g>
<g transform="translate(255.19 777.5)"><circle r="5.15" fill="#fff9ea" stroke="#f59b23" stroke-width="1.7"/><text x="0" y="2.9" fill="#f59b23" stroke="#f59b23" stroke-width="0.3">C</text></g>
<g transform="translate(249.19 777.5)"><circle r="5.15" fill="#fff9ea" stroke="#f59b23" stroke-width="1.7"/><text x="0" y="2.9" fill="#f59b23" stroke="#f59b23" stroke-width="0.3">C</text></g>
<g transform="translate(243.19 777.5)"><circle r="5.15" fill="#fff9ea" stroke="#f59b23" stroke-width="1.7"/><text x="0" y="2.9" fill="#f59b23" stroke="#f59b23" stroke-width="0.3">C</text></g>
<g transform="translate(237.19 777.5)"><circle r="5.15" fill="#fff9ea" stroke="#f59b23" stroke-width="1.7"/><text x="0" y="2.9" fill="#f59b23" stroke="#f59b23" stroke-width="0.3">C</text></g>
</g>
<path d="M1426 45.4 h3.6 M1426 68.7 h3.6 M1426 92 h3.6 M1426 115.3 h3.6 M1426 138.6 h3.6 M1426 161.9 h3.6 M1426 185.2 h3.6 M1426 208.5 h3.6 M1426 231.8 h3.6 M1426 255.1 h3.6 M1426 278.4 h3.6 M1426 301.7 h3.6 M1426 325 h3.6 M1426 348.3 h3.6 M1426 371.6 h3.6 M1426 394.9 h3.6 M1426 418.2 h3.6 M1426 441.5 h3.6 M1426 464.8 h3.6 M1426 488.1 h3.6 M1426 511.4 h3.6 M1426 534.7 h3.6 M1426 558 h3.6 M1426 581.3 h3.6 M1426 604.6 h3.6 M1426 627.9 h3.6 M1426 651.2 h3.6 M1426 674.5 h3.6 M1426 697.8 h3.6 M1426 721.1 h3.6 M1426 744.4 h3.6 M1426 767.7 h3.6" stroke="#e0e0e2" stroke-width="1" fill="none"/>
<rect x="1429.2" y="149.1" width="32.5" height="15.6" rx="1.6" fill="#e21d61"/>
<rect x="1429.2" y="329.0" width="32.5" height="15.6" rx="1.6" fill="#e21d61"/>
<rect x="1429.2" y="523.3" width="32.5" height="15.6" rx="1.6" fill="#e21d61"/>
<rect x="1429.2" y="413.6" width="32.5" height="12" rx="1.6" fill="#2ebd85"/>
<rect x="1429.2" y="416.2" width="38.8" height="23.8" rx="1" fill="#ef4f4c"/>
<rect x="40" y="39" width="200" height="21.5" fill="#fff" opacity="0.6"/>
<defs><filter id="sh1" x="-5%" y="-40%" width="110%" height="200%"><feDropShadow dx="0" dy="1.2" stdDeviation="1.6" flood-color="#000" flood-opacity="0.16"/></filter><filter id="sh2" x="-40%" y="-40%" width="180%" height="200%"><feDropShadow dx="0" dy="0.8" stdDeviation="1.3" flood-color="#000" flood-opacity="0.16"/></filter></defs><circle cx="51" cy="51.1" r="5.9" fill="#2fcd9b"/><text x="51" y="53" font-size="5.2" font-weight="700" text-anchor="middle" fill="#083d2e" font-family="'Liberation Sans',sans-serif">FB</text><circle cx="242.2" cy="49.9" r="3" fill="#3fd8ac"/><path d="M98.4 10.5V24.5M136.5 10.5V24.5M485.5 10.5V24.5M850 10.5V24.5" stroke="#ececee" stroke-width="1.0" fill="none" stroke-linecap="round" stroke-linejoin="round" /><circle cx="82.1" cy="18.2" r="4.8" fill="none" stroke="#2e3036" stroke-width="1.15"/><path d="M85.6 21.8L88 24.1" stroke="#2e3036" stroke-width="1.05" fill="none" stroke-linecap="round" stroke-linejoin="round" /><rect x="112.6" y="14.6" width="3.5" height="7.4" rx="1" fill="none" stroke="#2e3036" stroke-width="1.08"/><path d="M114.35 12.3V14.6M114.35 22V24" stroke="#2e3036" stroke-width="1.08" fill="none" stroke-linecap="round" stroke-linejoin="round" /><rect x="118.8" y="15.8" width="3.3" height="5.2" rx="1" fill="none" stroke="#42d3a8" stroke-width="1.08"/><path d="M120.45 13.9V15.8M120.45 21V23" stroke="#42d3a8" stroke-width="1.2" fill="none" stroke-linecap="round" stroke-linejoin="round" /><path d="M52.7 17.7L55.0 20.1L57.3 17.7" stroke="#5b5c60" stroke-width="1.0" fill="none" stroke-linecap="round" stroke-linejoin="round" /><path d="M470.1 17.7L472.4 20.1L474.7 17.7" stroke="#5b5c60" stroke-width="1.0" fill="none" stroke-linecap="round" stroke-linejoin="round" /><path d="M560.7 17.7L563.0 20.1L565.3 17.7" stroke="#5b5c60" stroke-width="1.0" fill="none" stroke-linecap="round" stroke-linejoin="round" /><text x="499.8" y="22.3" font-size="12" font-style="italic" font-weight="700" fill="#2e3036" font-family="'Liberation Serif',serif">f</text><path d="M505.8 21.8h3.8M507.7 19.9v3.8" stroke="#42d3a8" stroke-width="1.0" fill="none" stroke-linecap="round" stroke-linejoin="round" /><rect x="861.2" y="12.6" width="12" height="11" rx="1.2" fill="none" stroke="#2e3036" stroke-width="1.3"/><path d="M861.2 18.2h6" stroke="#2e3036" stroke-width="1.08" fill="none" stroke-linecap="round" stroke-linejoin="round" /><rect x="1449.4" y="13.6" width="12.2" height="9.6" rx="1.5" fill="none" stroke="#2e3036" stroke-width="1.15"/><path d="M1452 18.4H1457M1453.9 16.5L1452 18.4L1453.9 20.3M1459.2 15.9V20.9" stroke="#2e3036" stroke-width="1.1" fill="none" stroke-linecap="round" stroke-linejoin="round" /><g filter="url(#sh1)"><rect x="864.3" y="9.6" width="583.8" height="27.2" rx="2.2" fill="#fff"/></g><g fill="#c4c5c9"><circle cx="874.8" cy="19.6" r="0.65"/><circle cx="874.8" cy="22.4" r="0.65"/><circle cx="874.8" cy="25.2" r="0.65"/><circle cx="874.8" cy="28.0" r="0.65"/><circle cx="879.3" cy="19.6" r="0.65"/><circle cx="879.3" cy="22.4" r="0.65"/><circle cx="879.3" cy="25.2" r="0.65"/><circle cx="879.3" cy="28.0" r="0.65"/></g><path d="M896 23.6H910" stroke="#45474c" stroke-width="1.35" fill="none" stroke-linecap="round" stroke-linejoin="round" /><path d="M931.9 16.2V31.3" stroke="#77787d" stroke-width="1.35" fill="none" stroke-linecap="round" stroke-linejoin="round" /><path d="M955.5 29.2L966.6 18.7" stroke="#2e3036" stroke-width="1.3" fill="none" stroke-linecap="round" stroke-linejoin="round" /><rect x="984.2" y="18.4" width="14" height="11.1" rx="0.8" fill="none" stroke="#2e3036" stroke-width="1.12"/><ellipse cx="1016.20" cy="28.00" rx="4.20" ry="3.10" transform="rotate(-28 1016.20 28.00)" fill="none" stroke="#2e3036" stroke-width="1.15"/><path d="M1017.20 23.70L1025.20 17.10Q1026.60 16.40 1027.40 17.60Q1028.10 18.60 1027.20 19.50L1020.80 27.20Z" fill="#fff" stroke="#2e3036" stroke-width="1.15" stroke-linejoin="round"/><path d="M1041.5 21.6L1055.6 17.9M1041.5 29.9L1055.6 26.1" stroke="#2e3036" stroke-width="1.05" fill="none" stroke-linecap="round" stroke-linejoin="round" /><path d="M1041.5 25.7L1055.6 22" stroke="#2e3036" stroke-width="1.0" fill="none" stroke-linecap="butt" stroke-linejoin="round" stroke-dasharray="2 1.4"/><path d="M1071.9 18.3h14.2 M1071.9 21.1h14.2 M1071.9 23.6h14.2 M1071.9 29.6h14.2" stroke="#2e3036" stroke-width="1.0" fill="none" stroke-linecap="round" stroke-linejoin="round" /><path d="M1073.1 27.3L1084.6 25.5" stroke="#2e3036" stroke-width="1.0" fill="none" stroke-linecap="butt" stroke-linejoin="round" stroke-dasharray="1.8 1.3"/><path d="M1101.2 24A8 8 0 0 1 1110.8 16.4" stroke="#2e3036" stroke-width="1.1" fill="none" stroke-linecap="butt" stroke-linejoin="round" stroke-dasharray="1.8 1.5"/><path d="M1101 25.5h14M1101 28.3h14M1101 31.1h14" stroke="#2e3036" stroke-width="1.05" fill="none" stroke-linecap="round" stroke-linejoin="round" /><path d="M1129.8 19.5V17.6H1142.4V19.5 M1136.1 17.6V30.3 M1133.2 30.3H1139.0" stroke="#2e3036" stroke-width="1.12" fill="none" stroke-linecap="round" stroke-linejoin="round" /><path d="M1141.4 27.5h3.2M1141.4 30.1h3.2" stroke="#2e3036" stroke-width="1.08" fill="none" stroke-linecap="round" stroke-linejoin="round" /><path d="M1159.4 18.3h15.6M1159.4 25.3h15.6M1159.4 29.6h15.6" stroke="#2e3036" stroke-width="1.05" fill="none" stroke-linecap="round" stroke-linejoin="round" /><path d="M1161 23.8L1173.6 20" stroke="#2e3036" stroke-width="1.0" fill="none" stroke-linecap="butt" stroke-linejoin="round" stroke-dasharray="2 1.3"/><path d="M1188.2 18.3h15.6M1188.2 22.5h15.6M1188.2 29.6h15.6" stroke="#2e3036" stroke-width="1.05" fill="none" stroke-linecap="round" stroke-linejoin="round" /><path d="M1190 24.2L1202.4 28" stroke="#2e3036" stroke-width="1.0" fill="none" stroke-linecap="butt" stroke-linejoin="round" stroke-dasharray="2 1.3"/><path d="M1218.6 30.2L1227.6 21.3" stroke="#1f2127" stroke-width="1.25" fill="none" stroke-linecap="round" stroke-linejoin="round" /><path d="M1232 17L1223.9 19.3L1229.7 25.1Z" fill="#1f2127"/><path d="M1245.5 28.4L1251.8 22.0L1256.9 27.5L1264.7 19.5M1261.3 19.3H1264.9V22.8" stroke="#2e3036" stroke-width="1.12" fill="none" stroke-linecap="round" stroke-linejoin="round" /><circle cx="1283.9" cy="23.9" r="7.4" fill="none" stroke="#2e3036" stroke-width="1.12"/><path d="M1304.6 23.9h16.4" stroke="#55575c" stroke-width="1.3" fill="none" stroke-linecap="round" stroke-linejoin="round" /><circle cx="1305.4" cy="23.9" r="1.4" fill="#55575c"/><path d="M1335.5 26L1348.6 18.4M1338 29.8L1351 22.3" stroke="#2e3036" stroke-width="1.12" fill="none" stroke-linecap="round" stroke-linejoin="round" /><path d="M1363.2 30.5 L1366.2 20.4 L1369.0 27.2 L1372.0 16.7 L1375.0 27.2 L1377.8 20.4 L1380.8 30.5" stroke="#2e3036" stroke-width="1.08" fill="none" stroke-linecap="round" stroke-linejoin="round" /><path d="M1364.5 27.7h15.0" stroke="#2e3036" stroke-width="1.0" fill="none" stroke-linecap="butt" stroke-linejoin="round" stroke-dasharray="1.2 1.6"/><path d="M1394.8 17.7H1407.4Q1408.8 17.7 1408.8 19.1V26.9Q1408.8 28.3 1407.4 28.3H1400.8L1397.4 31.3V28.3H1394.8Q1393.4 28.3 1393.4 26.9V19.1Q1393.4 17.7 1394.8 17.7Z" stroke="#2e3036" stroke-width="1.08" fill="none" stroke-linecap="round" stroke-linejoin="round" /><text x="1401.1" y="25.7" font-size="7.6" font-weight="700" text-anchor="middle" fill="#2e3036" font-family="'Liberation Sans',sans-serif">$</text><path d="M1424.8 17.7H1437.2Q1438.6 17.7 1438.6 19.1V26.9Q1438.6 28.3 1437.2 28.3H1424.8Q1423.4 28.3 1423.4 26.9V19.1Q1423.4 17.7 1424.8 17.7ZM1431 28.3V31.4" stroke="#2e3036" stroke-width="1.08" fill="none" stroke-linecap="round" stroke-linejoin="round" /><text x="1431" y="25.7" font-size="7.6" font-weight="700" text-anchor="middle" fill="#2e3036" font-family="'Liberation Sans',sans-serif">$</text><path d="M16.3 53.5H29.5M22.9 46.9V60.1" stroke="#4fd8b2" stroke-width="1.3" fill="none" stroke-linecap="round" stroke-linejoin="round" /><path d="M14.4 80.9h17.0" stroke="#55575c" stroke-width="1.3" fill="none" stroke-linecap="round" stroke-linejoin="round" /><circle cx="15.2" cy="80.9" r="1.4" fill="#55575c"/><path d="M15.8 101.0h14.2 M15.8 103.8h14.2 M15.8 106.3h14.2 M15.8 112.4h14.2" stroke="#2e3036" stroke-width="1.0" fill="none" stroke-linecap="round" stroke-linejoin="round" /><path d="M17.0 110.0L28.5 108.2" stroke="#2e3036" stroke-width="1.0" fill="none" stroke-linecap="butt" stroke-linejoin="round" stroke-dasharray="1.8 1.3"/><path d="M14.2 140.5 L17.2 130.3 L20.0 137.1 L23.0 126.5 L26.0 137.1 L28.8 130.3 L31.8 140.5" stroke="#2e3036" stroke-width="1.08" fill="none" stroke-linecap="round" stroke-linejoin="round" /><path d="M15.5 137.7h15.0" stroke="#2e3036" stroke-width="1.0" fill="none" stroke-linecap="butt" stroke-linejoin="round" stroke-dasharray="1.2 1.6"/><path d="M20.2 154.5H31.4M14.5 167.3H26" stroke="#2e3036" stroke-width="1.12" fill="none" stroke-linecap="round" stroke-linejoin="round" /><path d="M19.6 164.2C23.6 164.2 25.6 162.4 26.2 158.6M23.8 159.9L26.4 157.6L28.4 160.6" stroke="#2e3036" stroke-width="1.12" fill="none" stroke-linecap="round" stroke-linejoin="round" /><path d="M13.3 191.4L19.5 185.1L24.6 190.5L32.3 182.7M28.9 182.5H32.5V186.0" stroke="#2e3036" stroke-width="1.12" fill="none" stroke-linecap="round" stroke-linejoin="round" /><path d="M15.9 209.7V207.8H28.5V209.7 M22.2 207.8V220.4 M19.3 220.4H25.1" stroke="#2e3036" stroke-width="1.12" fill="none" stroke-linecap="round" stroke-linejoin="round" /><path d="M27.5 217.6h3.2M27.5 220.2h3.2" stroke="#2e3036" stroke-width="1.08" fill="none" stroke-linecap="round" stroke-linejoin="round" /><rect x="16.2" y="234.3" width="13.6" height="13.3" rx="2.4" fill="none" stroke="#2e3036" stroke-width="1.12"/><path d="M20.9 238.5v0.9M25.4 238.5v0.9M21.4 241.6C22.3 243 24 243 24.9 241.6" stroke="#2e3036" stroke-width="1.05" fill="none" stroke-linecap="round" stroke-linejoin="round" /><g transform="translate(23 278.9) rotate(45)"><rect x="-8.9" y="-3.3" width="17.8" height="6.6" rx="0.8" fill="none" stroke="#2e3036" stroke-width="1.12"/><path d="M-5.4 -3.3v2.5M-2.7 -3.3v2.5M0 -3.3v2.5M2.7 -3.3v2.5M5.4 -3.3v2.5" stroke="#2e3036" stroke-width="1.0" fill="none" stroke-linecap="round" stroke-linejoin="round" /></g><circle cx="22.6" cy="303.8" r="7.2" fill="none" stroke="#2e3036" stroke-width="1.12"/><path d="M20.3 303.8h4.6M22.6 301.5v4.6M27.9 309.1L30.1 311.3" stroke="#2e3036" stroke-width="1.12" fill="none" stroke-linecap="round" stroke-linejoin="round" /><g transform="translate(23 341.4) rotate(45) scale(0.96)"><path d="M-6.6 -7.2V0.4A6.6 6.6 0 0 0 6.6 0.4V-7.2H2.4V0.4A2.4 2.4 0 0 1 -2.4 0.4V-7.2ZM-6.6 -4.2h4.2M2.4 -4.2h4.2" stroke="#2e3036" stroke-width="1.12" fill="none" stroke-linecap="round" stroke-linejoin="round" /></g><ellipse cx="17.60" cy="369.00" rx="3.70" ry="2.73" transform="rotate(-28 17.60 369.00)" fill="none" stroke="#2e3036" stroke-width="1.15"/><path d="M18.48 365.22L25.52 359.41Q26.75 358.79 27.46 359.85Q28.07 360.73 27.28 361.52L21.65 368.30Z" fill="#fff" stroke="#2e3036" stroke-width="1.15" stroke-linejoin="round"/><rect x="24.4" y="368.6" width="7.2" height="5.6" rx="1" fill="#fff" stroke="#2e3036" stroke-width="1.1"/><path d="M26 368.6v-1.4a2 2 0 0 1 4 0M27.2 371.3h1.7" stroke="#2e3036" stroke-width="1.05" fill="none" stroke-linecap="round" stroke-linejoin="round" /><rect x="16.3" y="393.2" width="13.4" height="8.6" rx="1.6" fill="none" stroke="#2e3036" stroke-width="1.12"/><path d="M19.6 393.2v-2.4a3.6 3.6 0 0 1 7 -1.1" stroke="#2e3036" stroke-width="1.12" fill="none" stroke-linecap="round" stroke-linejoin="round" /><path d="M21.8 396.4h2.4M23 396.4v2.4" stroke="#2e3036" stroke-width="1.08" fill="none" stroke-linecap="round" stroke-linejoin="round" /><path d="M15.2 421C17.6 416.6 20.4 415.2 23.3 415.2C26.2 415.2 29 416.6 31.5 421C29 425.4 26.2 426.8 23.3 426.8C20.4 426.8 17.6 425.4 15.2 421Z" stroke="#2e3036" stroke-width="1.12" fill="none" stroke-linecap="round" stroke-linejoin="round" /><circle cx="23.3" cy="421" r="2.9" fill="none" stroke="#2e3036" stroke-width="1.12"/><path d="M13 438.3H32" stroke="#e6e6e8" stroke-width="1.0" fill="none" stroke-linecap="round" stroke-linejoin="round" /><path d="M16 451.7H30.4M20.4 451.5V449.8Q20.4 449 21.2 449H25.2Q26 449 26 449.8V451.5M17.7 451.9L18.3 462.2Q18.4 463.6 19.8 463.6H26.6Q28 463.6 28.1 462.2L28.7 451.9M21.4 455.2V460.2M25 455.2V460.2" stroke="#2e3036" stroke-width="1.12" fill="none" stroke-linecap="round" stroke-linejoin="round" /><g filter="url(#sh2)"><rect x="735.1" y="753.6" width="15.6" height="14.8" rx="2" fill="#fff"/></g><path d="M739.7 761h6.4M742.9 757.8v6.4" stroke="#44464b" stroke-width="1.1" fill="none" stroke-linecap="round" stroke-linejoin="round" /><g filter="url(#sh2)"><rect x="762.2" y="753.6" width="15.6" height="14.8" rx="2" fill="#fff"/></g><path d="M766.8 761h6.4" stroke="#44464b" stroke-width="1.1" fill="none" stroke-linecap="round" stroke-linejoin="round" /><g filter="url(#sh2)"><rect x="1408.2" y="752.8" width="17.2" height="16" rx="2" fill="#fff"/></g><path d="M1415.3 756.5L1419.9 760.9L1415.3 765.3" stroke="#36383d" stroke-width="1.25" fill="none" stroke-linecap="round" stroke-linejoin="round" /><path d="M1456.70 800.90L1455.60 802.39L1455.32 804.22L1453.49 804.50L1452.00 805.60L1450.51 804.50L1448.68 804.22L1448.40 802.39L1447.30 800.90L1448.40 799.41L1448.68 797.58L1450.51 797.30L1452.00 796.20L1453.49 797.30L1455.32 797.58L1455.60 799.41Z" stroke="#44464b" stroke-width="1.1" fill="none" stroke-linecap="round" stroke-linejoin="round" /><circle cx="1452" cy="800.9" r="1.7" fill="none" stroke="#44464b" stroke-width="1"/><path d="M64.0 824.5L68.5 829.1M68.5 824.5L64.0 829.1" stroke="#707175" stroke-width="0.95" fill="none" stroke-linecap="round" stroke-linejoin="round" /><path d="M181.3 824.5L185.9 829.1M185.9 824.5L181.3 829.1" stroke="#707175" stroke-width="0.95" fill="none" stroke-linecap="round" stroke-linejoin="round" /><path d="M298.6 824.5L303.2 829.1M303.2 824.5L298.6 829.1" stroke="#707175" stroke-width="0.95" fill="none" stroke-linecap="round" stroke-linejoin="round" /><path d="M415.9 824.5L420.5 829.1M420.5 824.5L415.9 829.1" stroke="#707175" stroke-width="0.95" fill="none" stroke-linecap="round" stroke-linejoin="round" /><path d="M533.2 824.5L537.8 829.1M537.8 824.5L533.2 829.1" stroke="#707175" stroke-width="0.95" fill="none" stroke-linecap="round" stroke-linejoin="round" /><path d="M650.5 824.5L655.1 829.1M655.1 824.5L650.5 829.1" stroke="#707175" stroke-width="0.95" fill="none" stroke-linecap="round" stroke-linejoin="round" /><path d="M767.9 824.5L772.5 829.1M772.5 824.5L767.9 829.1" stroke="#707175" stroke-width="0.95" fill="none" stroke-linecap="round" stroke-linejoin="round" /><path d="M885.2 824.5L889.8 829.1M889.8 824.5L885.2 829.1" stroke="#707175" stroke-width="0.95" fill="none" stroke-linecap="round" stroke-linejoin="round" /><path d="M1002.5 824.5L1007.1 829.1M1007.1 824.5L1002.5 829.1" stroke="#707175" stroke-width="0.95" fill="none" stroke-linecap="round" stroke-linejoin="round" /><path d="M1119.8 824.5L1124.4 829.1M1124.4 824.5L1119.8 829.1" stroke="#707175" stroke-width="0.95" fill="none" stroke-linecap="round" stroke-linejoin="round" /><path d="M1237.1 824.5L1241.7 829.1M1241.7 824.5L1237.1 829.1" stroke="#707175" stroke-width="0.95" fill="none" stroke-linecap="round" stroke-linejoin="round" /><path d="M1354.5 824.5L1359.1 829.1M1359.1 824.5L1354.5 829.1" stroke="#707175" stroke-width="0.95" fill="none" stroke-linecap="round" stroke-linejoin="round" /><path d="M79.0 821.6V832.2M196.3 821.6V832.2M313.7 821.6V832.2M431.0 821.6V832.2M548.4 821.6V832.2M665.8 821.6V832.2M783.1 821.6V832.2M900.4 821.6V832.2M1017.8 821.6V832.2M1135.1 821.6V832.2" stroke="#dedee0" stroke-width="1.0" fill="none" stroke-linecap="round" stroke-linejoin="round" /><path d="M1379.5 826.5H1387.5M1383.5 822.5V830.5" stroke="#1a1b1e" stroke-width="1.15" fill="none" stroke-linecap="round" stroke-linejoin="round" /><rect x="1401.7" y="822.2" width="11.2" height="8.5" rx="1.3" fill="none" stroke="#1f2127" stroke-width="1.1"/><path d="M1406.6 822.2V830.7M1406.6 826.4H1412.9" stroke="#1f2127" stroke-width="1.05" fill="none" stroke-linecap="round" stroke-linejoin="round" /><rect x="1426.6" y="823.5" width="8.9" height="5.2" rx="1.2" fill="none" stroke="#1f2127" stroke-width="1.1"/><path d="M1450.3 824.6V823.4Q1450.3 822.4 1451.3 822.4H1452.6M1457.4 822.4H1458.7Q1459.7 822.4 1459.7 823.4V824.6M1459.7 827.6V828.8Q1459.7 829.8 1458.7 829.8H1457.4M1452.6 829.8H1451.3Q1450.3 829.8 1450.3 828.8V827.6" stroke="#1f2127" stroke-width="1.1" fill="none" stroke-linecap="round" stroke-linejoin="round" />
</svg>
<div class="box" style="left:40px;top:734px;width:167.2px;height:72.1px;background:#3ce0b3;border-radius:6px"></div>
<div class="box" style="left:119.4px;top:805.6px;width:0;height:0;border-left:3.8px solid transparent;border-right:3.8px solid transparent;border-top:4px solid #3ce0b3"></div>
<div class="box" style="left:11.2px;top:811.1px;width:23.6px;height:23.7px;background:#3ce0b3;border-radius:2.5px"></div>
<span class="t" id="t0" style="left:19.99px;top:13px;font-size:10px;color:#2f3035;-webkit-text-stroke:0.22px #2f3035;transform:scaleX(0.9704);">Charts</span>
<span class="t" id="t1" style="left:148.20px;top:13px;font-size:10px;color:#2f3035;-webkit-text-stroke:0.22px #2f3035;transform:scaleX(0.9154);">M1</span>
<span class="t" id="t2" style="left:171.22px;top:13px;font-size:10px;color:#2f3035;-webkit-text-stroke:0.22px #2f3035;transform:scaleX(1.0308);">M5</span>
<span class="t" id="t3" style="left:195.61px;top:13px;font-size:10px;color:#2f3035;-webkit-text-stroke:0.22px #2f3035;transform:scaleX(0.9405);">M10</span>
<span class="t" id="t4" style="left:224.19px;top:13px;font-size:10px;color:#2f3035;-webkit-text-stroke:0.22px #2f3035;transform:scaleX(0.9297);">M15</span>
<span class="t" id="t5" style="left:253.11px;top:13px;font-size:10px;color:#2f3035;-webkit-text-stroke:0.22px #2f3035;transform:scaleX(0.9277);">H1</span>
<span class="t" id="t6" style="left:274.78px;top:13px;font-size:10px;color:#2f3035;-webkit-text-stroke:0.22px #2f3035;transform:scaleX(1.0213);">H2</span>
<span class="t" id="t7" style="left:297.81px;top:13px;font-size:10px;color:#45d4aa;-webkit-text-stroke:0.22px #45d4aa;transform:scaleX(1.0250);">H4</span>
<span class="t" id="t8" style="left:320.89px;top:13px;font-size:10px;color:#2f3035;-webkit-text-stroke:0.22px #2f3035;transform:scaleX(1.0383);">H6</span>
<span class="t" id="t9" style="left:344.61px;top:13px;font-size:10px;color:#2f3035;-webkit-text-stroke:0.22px #2f3035;transform:scaleX(1.0128);">H8</span>
<span class="t" id="t10" style="left:367.78px;top:13px;font-size:10px;color:#2f3035;-webkit-text-stroke:0.22px #2f3035;transform:scaleX(0.9159);">H12</span>
<span class="t" id="t11" style="left:395.09px;top:13px;font-size:10px;color:#2f3035;-webkit-text-stroke:0.22px #2f3035;transform:scaleX(0.9083);">D1</span>
<span class="t" id="t12" style="left:417.46px;top:13px;font-size:10px;color:#2f3035;-webkit-text-stroke:0.22px #2f3035;transform:scaleX(0.8542);">W1</span>
<span class="t" id="t13" style="left:440.77px;top:13px;font-size:10px;color:#2f3035;-webkit-text-stroke:0.22px #2f3035;transform:scaleX(0.9086);">MN1</span>
<span class="t" id="t14" style="left:513.74px;top:13px;font-size:10px;color:#2f3035;-webkit-text-stroke:0.22px #2f3035;transform:scaleX(0.9812);">Indicators</span>
<span class="t" id="t15" style="left:577.98px;top:13px;font-size:10px;color:#2f3035;-webkit-text-stroke:0.22px #2f3035;transform:scaleX(0.9310);">MA</span>
<span class="t" id="t16" style="left:602.26px;top:13px;font-size:10px;color:#2f3035;-webkit-text-stroke:0.22px #2f3035;transform:scaleX(0.9868);">Bollinger</span>
<span class="t" id="t17" style="left:651.01px;top:13px;font-size:10px;color:#2f3035;-webkit-text-stroke:0.22px #2f3035;transform:scaleX(0.9404);">MACD</span>
<span class="t" id="t18" style="left:688.79px;top:13px;font-size:10px;color:#2f3035;-webkit-text-stroke:0.22px #2f3035;transform:scaleX(0.9115);">RSI</span>
<span class="t" id="t19" style="left:714.56px;top:13px;font-size:10px;color:#2f3035;-webkit-text-stroke:0.22px #2f3035;transform:scaleX(0.8737);">ATR</span>
<span class="t" id="t20" style="left:741.72px;top:13px;font-size:10px;color:#2f3035;-webkit-text-stroke:0.22px #2f3035;transform:scaleX(1.0061);">Stoch</span>
<span class="t" id="t21" style="left:777.08px;top:13px;font-size:10px;color:#2f3035;-webkit-text-stroke:0.22px #2f3035;transform:scaleX(0.9905);">MFI</span>
<span class="t" id="t22" style="left:804.37px;top:13px;font-size:10px;color:#2f3035;-webkit-text-stroke:0.22px #2f3035;transform:scaleX(0.9526);">Volumes</span>
<span class="t" id="t23" style="left:59.84px;top:45px;font-size:10px;color:#2b2d33;-webkit-text-stroke:0.22px #2b2d33;transform:scaleX(1.0235);">Light Sweet Crude Oil, H4, Unadjusted</span>
<span class="t" id="t24" style="left:251.77px;top:43px;font-size:9.4px;color:#2f3035;-webkit-text-stroke:0.22px #2f3035;transform:scaleX(0.8814);">O =</span>
<span class="t" id="t25" style="left:267.78px;top:43px;font-size:9.4px;color:#2fc38c;-webkit-text-stroke:0.22px #2fc38c;transform:scaleX(0.9451);">57.726</span>
<span class="t" id="t26" style="left:301.16px;top:43px;font-size:9.4px;color:#2f3035;-webkit-text-stroke:0.22px #2f3035;transform:scaleX(0.9600);">H =</span>
<span class="t" id="t27" style="left:317.69px;top:43px;font-size:9.4px;color:#2fc38c;-webkit-text-stroke:0.22px #2fc38c;transform:scaleX(0.9143);">57.841</span>
<span class="t" id="t28" style="left:350.43px;top:43px;font-size:9.4px;color:#2f3035;-webkit-text-stroke:0.22px #2f3035;transform:scaleX(0.9167);">L =</span>
<span class="t" id="t29" style="left:365.15px;top:43px;font-size:9.4px;color:#2fc38c;-webkit-text-stroke:0.22px #2fc38c;transform:scaleX(0.9464);">57.726</span>
<span class="t" id="t30" style="left:398.66px;top:43px;font-size:9.4px;color:#2f3035;-webkit-text-stroke:0.22px #2f3035;transform:scaleX(0.8421);">C =</span>
<span class="t" id="t31" style="left:414.22px;top:43px;font-size:9.4px;color:#2fc38c;-webkit-text-stroke:0.22px #2fc38c;transform:scaleX(0.9107);">57.791</span>
<span class="t" id="t32" style="left:447.50px;top:43px;font-size:9.4px;color:#2f3035;-webkit-text-stroke:0.22px #2f3035;transform:scaleX(0.8800);">V</span>
<span class="t" id="t33" style="left:455.27px;top:43px;font-size:9.4px;color:#2fc38c;-webkit-text-stroke:0.22px #2fc38c;transform:scaleX(0.9667);">577</span>
<span class="t" id="t34" style="left:477.04px;top:43px;font-size:9.4px;color:#2fc38c;-webkit-text-stroke:0.22px #2fc38c;transform:scaleX(0.9226);">+0.062 (+0.11%)</span>
<span class="t" id="t64" style="left:1432.92px;top:150px;font-size:8.7px;color:#fff;-webkit-text-stroke:0.05px #fff;transform:scaleX(0.9243);">60.819</span>
<span class="t" id="t65" style="left:1432.91px;top:330px;font-size:8.7px;color:#fff;-webkit-text-stroke:0.05px #fff;transform:scaleX(0.9243);">58.783</span>
<span class="t" id="t66" style="left:1432.91px;top:524px;font-size:8.7px;color:#fff;-webkit-text-stroke:0.05px #fff;transform:scaleX(0.9243);">56.579</span>
<span class="t" id="t67" style="left:1433.19px;top:418px;font-size:8.3px;color:#fff;transform:scaleX(0.9374);">57.791</span>
<span class="t" id="t68" style="left:1432.71px;top:427px;font-size:8.3px;color:#ffe1de;transform:scaleX(0.9619);">03:22:41</span>
<span class="t" id="t69" style="left:207.05px;top:795px;font-size:8.8px;color:#2b2c30;-webkit-text-stroke:0.12px #2b2c30;transform:scaleX(0.9282);">Nov 25 08:00</span>
<span class="t" id="t70" style="left:293.30px;top:795px;font-size:8.8px;color:#2b2c30;-webkit-text-stroke:0.12px #2b2c30;transform:scaleX(0.9379);">08:00</span>
<span class="t" id="t71" style="left:351.05px;top:795px;font-size:8.8px;color:#2b2c30;-webkit-text-stroke:0.12px #2b2c30;transform:scaleX(0.9282);">Dec 02 00:00</span>
<span class="t" id="t72" style="left:437.30px;top:795px;font-size:8.8px;color:#2b2c30;-webkit-text-stroke:0.12px #2b2c30;transform:scaleX(0.9379);">00:00</span>
<span class="t" id="t73" style="left:495.05px;top:795px;font-size:8.8px;color:#2b2c30;-webkit-text-stroke:0.12px #2b2c30;transform:scaleX(0.9282);">Dec 08 00:00</span>
<span class="t" id="t74" style="left:581.30px;top:795px;font-size:8.8px;color:#2b2c30;-webkit-text-stroke:0.12px #2b2c30;transform:scaleX(0.9379);">00:00</span>
<span class="t" id="t75" style="left:653.30px;top:795px;font-size:8.8px;color:#2b2c30;-webkit-text-stroke:0.12px #2b2c30;transform:scaleX(0.9379);">00:00</span>
<span class="t" id="t76" style="left:711.05px;top:795px;font-size:8.8px;color:#2b2c30;-webkit-text-stroke:0.12px #2b2c30;transform:scaleX(0.9282);">Dec 16 00:00</span>
<span class="t" id="t77" style="left:797.30px;top:795px;font-size:8.8px;color:#2b2c30;-webkit-text-stroke:0.12px #2b2c30;transform:scaleX(0.9379);">00:00</span>
<span class="t" id="t78" style="left:855.05px;top:795px;font-size:8.8px;color:#2b2c30;-webkit-text-stroke:0.12px #2b2c30;transform:scaleX(0.9282);">Dec 22 00:00</span>
<span class="t" id="t79" style="left:941.30px;top:795px;font-size:8.8px;color:#2b2c30;-webkit-text-stroke:0.12px #2b2c30;transform:scaleX(0.9379);">00:00</span>
<span class="t" id="t80" style="left:999.05px;top:795px;font-size:8.8px;color:#2b2c30;-webkit-text-stroke:0.12px #2b2c30;transform:scaleX(0.9282);">Dec 29 08:00</span>
<span class="t" id="t81" style="left:1085.30px;top:795px;font-size:8.8px;color:#2b2c30;-webkit-text-stroke:0.12px #2b2c30;transform:scaleX(0.9379);">08:00</span>
<span class="t" id="t82" style="left:1144.21px;top:795px;font-size:8.8px;color:#2b2c30;-webkit-text-stroke:0.12px #2b2c30;transform:scaleX(0.9228);">Jan 02 08:00</span>
<span class="t" id="t83" style="left:1216.21px;top:795px;font-size:8.8px;color:#2b2c30;-webkit-text-stroke:0.12px #2b2c30;transform:scaleX(0.9228);">Jan 06 08:00</span>
<span class="t" id="t84" style="left:1301.30px;top:795px;font-size:8.8px;color:#2b2c30;-webkit-text-stroke:0.12px #2b2c30;transform:scaleX(0.9379);">08:00</span>
<span class="t" id="t85" style="left:1360.21px;top:795px;font-size:8.8px;color:#2b2c30;-webkit-text-stroke:0.12px #2b2c30;transform:scaleX(0.9228);">Jan 12 08:00</span>
<span class="t" id="t86" style="left:87.09px;top:821px;font-size:10px;color:#2c2d31;-webkit-text-stroke:0.16px #2c2d31;transform:scaleX(0.9308);">BTCUSD, H4</span>
<span class="t" id="t87" style="left:204.25px;top:821px;font-size:10px;color:#2c2d31;-webkit-text-stroke:0.16px #2c2d31;transform:scaleX(0.9611);">USDJPY, H8</span>
<span class="t" id="t88" style="left:321.51px;top:821px;font-size:10px;color:#2c2d31;-webkit-text-stroke:0.16px #2c2d31;transform:scaleX(0.9678);">ETH-USDT, H6</span>
<span class="t" id="t89" style="left:438.98px;top:821px;font-size:10px;color:#2c2d31;-webkit-text-stroke:0.16px #2c2d31;transform:scaleX(0.9502);">NZDUSD, H4</span>
<span class="t" id="t90" style="left:556.39px;top:821px;font-size:10px;color:#2c2d31;-webkit-text-stroke:0.16px #2c2d31;transform:scaleX(0.9569);">USDCHF, H8</span>
<span class="t" id="t91" style="left:673.61px;top:821px;font-size:10px;color:#2c2d31;-webkit-text-stroke:0.16px #2c2d31;transform:scaleX(0.9550);">HK50, H12</span>
<span class="t" id="t92" style="left:791.24px;top:821px;font-size:10px;color:#2c2d31;-webkit-text-stroke:0.16px #2c2d31;transform:scaleX(0.9614);">US 30 Index, H8</span>
<span class="t" id="t93" style="left:908.42px;top:821px;font-size:10px;color:#2c2d31;-webkit-text-stroke:0.16px #2c2d31;transform:scaleX(0.9535);">US 100 Tec..., H4</span>
<span class="t" id="t94" style="left:1025.74px;top:821px;font-size:10px;color:#2c2d31;-webkit-text-stroke:0.16px #2c2d31;transform:scaleX(0.9828);">Nikkei 225, H8</span>
<span class="t" id="t95" style="left:1143.11px;top:821px;font-size:10px;color:#2c2d31;-webkit-text-stroke:0.16px #2c2d31;transform:scaleX(0.9536);">CADJPY, H4</span>
<span class="t" id="t96" style="left:1261.84px;top:821px;font-size:10px;color:#1b1c1f;font-weight:700;transform:scaleX(0.9415);">WTI, H4</span>
<span class="t" id="t97" style="left:51.56px;top:743px;font-size:9.9px;color:#0a5a45;-webkit-text-stroke:0.20px #0a5a45;transform:scaleX(0.9921);">1.Click to switch charts or drag</span>
<span class="t" id="t98" style="left:52.26px;top:758px;font-size:9.9px;color:#0a5a45;-webkit-text-stroke:0.20px #0a5a45;transform:scaleX(1.0103);">to reposition</span>
<span class="t" id="t99" style="left:51.76px;top:772px;font-size:9.9px;color:#0a5a45;-webkit-text-stroke:0.20px #0a5a45;transform:scaleX(1.0093);">2.Right-click to copy charts or</span>
<span class="t" id="t100" style="left:52.01px;top:787px;font-size:9.9px;color:#0a5a45;-webkit-text-stroke:0.20px #0a5a45;">adjust tab bar position</span>
<svg class="chart" width="1471" height="841" viewBox="0 0 1471 841"><path d="M193.1 746.5L197.5 750.9M197.5 746.5L193.1 750.9" stroke="#0b5e47" stroke-width="0.9" fill="none" stroke-linecap="round" stroke-linejoin="round" /><path d="M22.95 816.30L25.01 820.77L29.89 821.34L26.28 824.68L27.24 829.51L22.95 827.10L18.66 829.51L19.62 824.68L16.01 821.34L20.89 820.77Z" stroke="#0b5e47" stroke-width="1.3" fill="none" stroke-linecap="round" stroke-linejoin="round" /></svg>
</body></html>
